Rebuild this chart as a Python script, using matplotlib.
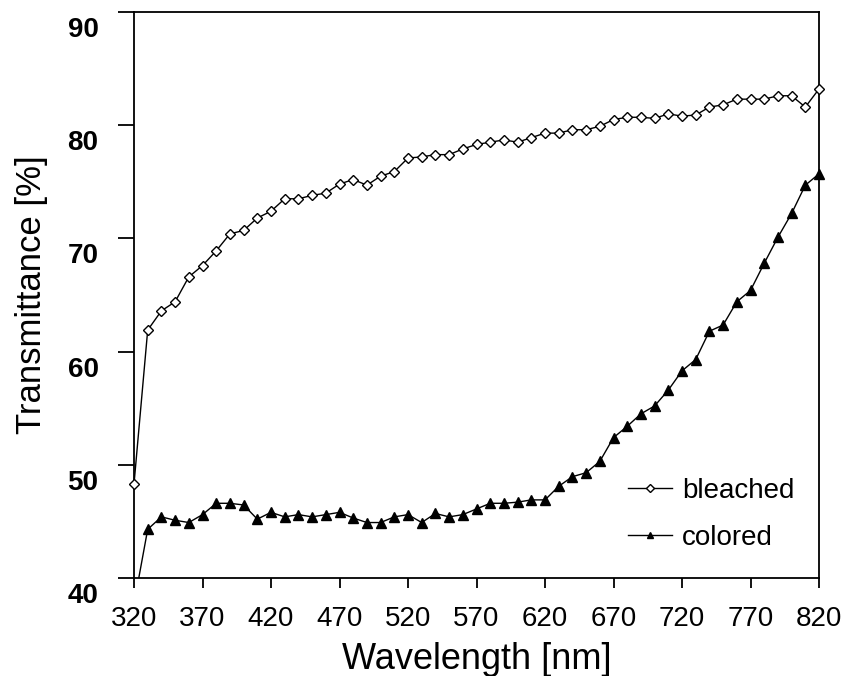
import matplotlib
matplotlib.use("Agg")
import matplotlib.pyplot as plt
from matplotlib.patches import Rectangle
from matplotlib.transforms import ScaledTranslation

plt.rcParams['font.family'] = ['Liberation Sans', 'DejaVu Sans']

wavelength = list(range(320, 830, 10))

bleached = [48.3, 61.9, 63.6, 64.4, 66.6, 67.6, 68.9, 70.4, 70.7, 71.8,
            72.4, 73.5, 73.5, 73.8, 74.0, 74.8, 75.2, 74.7, 75.5, 75.9,
            77.1, 77.2, 77.4, 77.4, 77.9, 78.3, 78.5, 78.7, 78.5, 78.9,
            79.3, 79.3, 79.6, 79.6, 79.9, 80.5, 80.7, 80.7, 80.6, 81.0,
            80.8, 80.9, 81.6, 81.8, 82.3, 82.3, 82.3, 82.6, 82.6, 81.6,
            83.2]

colored = [37.7, 44.3, 45.4, 45.1, 44.9, 45.6, 46.6, 46.6, 46.45, 45.2,
           45.8, 45.4, 45.6, 45.4, 45.6, 45.8, 45.3, 44.9, 44.9, 45.4,
           45.6, 44.9, 45.7, 45.4, 45.6, 46.1, 46.6, 46.6, 46.7, 46.9,
           46.9, 48.1, 48.95, 49.3, 50.3, 52.4, 53.4, 54.5, 55.2, 56.6,
           58.3, 59.3, 61.8, 62.35, 64.4, 65.4, 67.8, 70.1, 72.2, 74.7,
           75.7]

x_ticks = list(range(320, 821, 50))
y_ticks = [40, 50, 60, 70, 80, 90]

fig = plt.figure(figsize=(8.44, 6.76), dpi=100)
ax = fig.add_axes([134/844, 1 - 578/676, 685/844, 566/676])

clip = Rectangle((-0.05, 0), 1.1, 1.1, transform=ax.transAxes)

lb, = ax.plot(wavelength, bleached, color='black', lw=1.0, marker='D',
              markersize=5.5, markerfacecolor='white', markeredgecolor='black',
              markeredgewidth=1.0, label='bleached', zorder=3)
lc, = ax.plot(wavelength, colored, color='black', lw=1.0, marker='^',
              markersize=7, markerfacecolor='black', markeredgecolor='black',
              label='colored', zorder=3)
for ln in (lb, lc):
    ln.set_clip_path(clip)

ax.set_xlim(320, 820)
ax.set_ylim(40, 90)
ax.set_xticks(x_ticks)
ax.set_yticks(y_ticks)
ax.set_xticklabels([str(v) for v in x_ticks], fontsize=20)
ax.set_yticklabels([str(v) for v in y_ticks], fontsize=20, fontweight='bold')

ax.tick_params(axis='x', direction='out', length=7.5, width=1.3, pad=13)
ax.tick_params(axis='y', direction='out', length=11.5, width=1.3, pad=14)

offset = ScaledTranslation(0, -15/100, fig.dpi_scale_trans)
for lab in ax.get_yticklabels():
    lab.set_transform(lab.get_transform() + offset)

for sp in ax.spines.values():
    sp.set_linewidth(1.3)

ax.set_xlabel('Wavelength [nm]', fontsize=26, labelpad=7)
ax.set_ylabel('Transmittance [%]', fontsize=25, labelpad=14)

ax.legend(loc='upper left', bbox_to_anchor=((628-134)/685, (578-478)/566),
          frameon=False, fontsize=20, handlelength=1.6, handletextpad=0.35,
          labelspacing=0.75, borderpad=0, borderaxespad=0, markerscale=0.7)

fig.savefig('out.png', dpi=100)
